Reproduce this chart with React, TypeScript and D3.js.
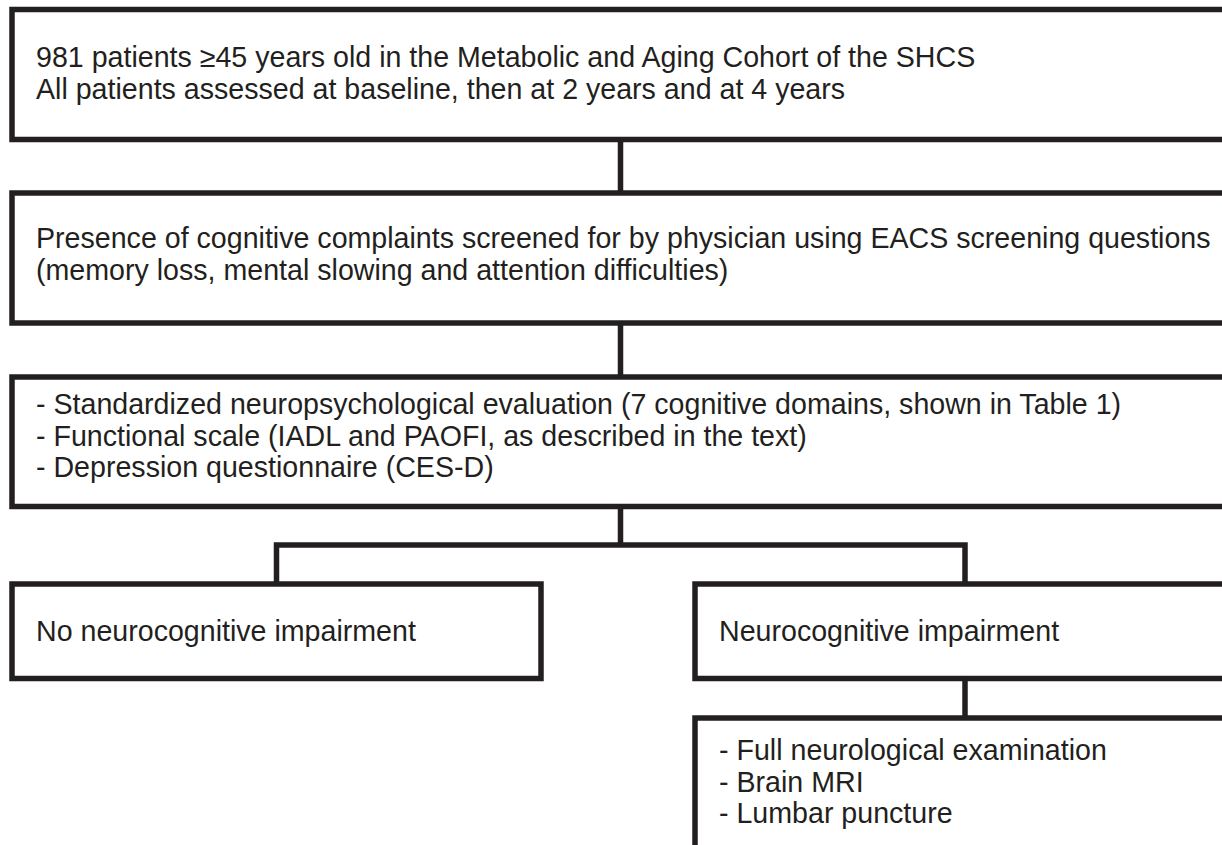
import React, { useEffect, useRef } from 'react';
import * as d3 from 'd3';

// box texts, top to bottom
const cohortLines = [
  '981 patients \u226545 years old in the Metabolic and Aging Cohort of the SHCS',
  'All patients assessed at baseline, then at 2 years and at 4 years',
];
const screeningLines = [
  'Presence of cognitive complaints screened for by physician using EACS screening questions',
  '(memory loss, mental slowing and attention difficulties)',
];
const evaluationLines = [
  '- Standardized neuropsychological evaluation (7 cognitive domains, shown in Table 1)',
  '- Functional scale (IADL and PAOFI, as described in the text)',
  '- Depression questionnaire (CES-D)',
];
const outcomeLabels = ['No neurocognitive impairment', 'Neurocognitive impairment'];
const workupLines = [
  '- Full neurological examination',
  '- Brain MRI',
  '- Lumbar puncture',
];

const W = 1222;
const H = 845;
const INK = '#231f20';
const SW = 5.5;

export default function App() {
  const ref = useRef<SVGSVGElement>(null);

  useEffect(() => {
    const svg = d3.select(ref.current);
    svg.selectAll('*').remove();

    const lineH = 31.5;
    const padX = 24;

    const box = (x0: number, y0: number, x1: number, y1: number, lines: string[], firstBase: number, closed = false) => {
      svg.append('path')
        .attr('d', closed ? `M${x0},${y0}H${x1}V${y1}H${x0}Z` : `M${x1},${y0}H${x0}V${y1}H${x1}`)
        .attr('fill', 'none')
        .attr('stroke', INK)
        .attr('stroke-width', SW);
      svg.append('g')
        .selectAll('text')
        .data(lines)
        .enter()
        .append('text')
        .attr('x', x0 + padX)
        .attr('y', (d, i) => firstBase + i * lineH)
        .text(d => d);
    };

    const link = (pts: [number, number][]) => {
      svg.append('path')
        .attr('d', d3.line()(pts))
        .attr('fill', 'none')
        .attr('stroke', INK)
        .attr('stroke-width', SW);
    };

    const right = W + 20;
    const midX = 620.5;
    const leftX = 276.5;
    const rightX = 965;

    box(12, 9.5, right, 139.5, cohortLines, 67);
    link([[midX, 139.5], [midX, 193]]);
    box(12, 193, right, 323, screeningLines, 248);
    link([[midX, 323], [midX, 377]]);
    box(12, 377, right, 506.5, evaluationLines, 414);
    link([[midX, 506.5], [midX, 545]]);
    link([[leftX, 584], [leftX, 545], [rightX, 545], [rightX, 584]]);

    // outcome boxes (the right one runs off the page)
    box(12, 584, 541, 678.5, [outcomeLabels[0]], 641, true);
    box(695, 584, right, 678.5, [outcomeLabels[1]], 641);

    link([[rightX, 678.5], [rightX, 718]]);
    box(695, 718, right, H + 20, workupLines, 760);
  }, []);

  return (
    <svg
      ref={ref}
      width={W}
      height={H}
      style={{ position: 'absolute', left: 0, top: 0, background: '#fff' }}
      fontFamily="'Liberation Sans', Arial, sans-serif"
      fontSize={28.6}
      fill={INK}
    />
  );
}
